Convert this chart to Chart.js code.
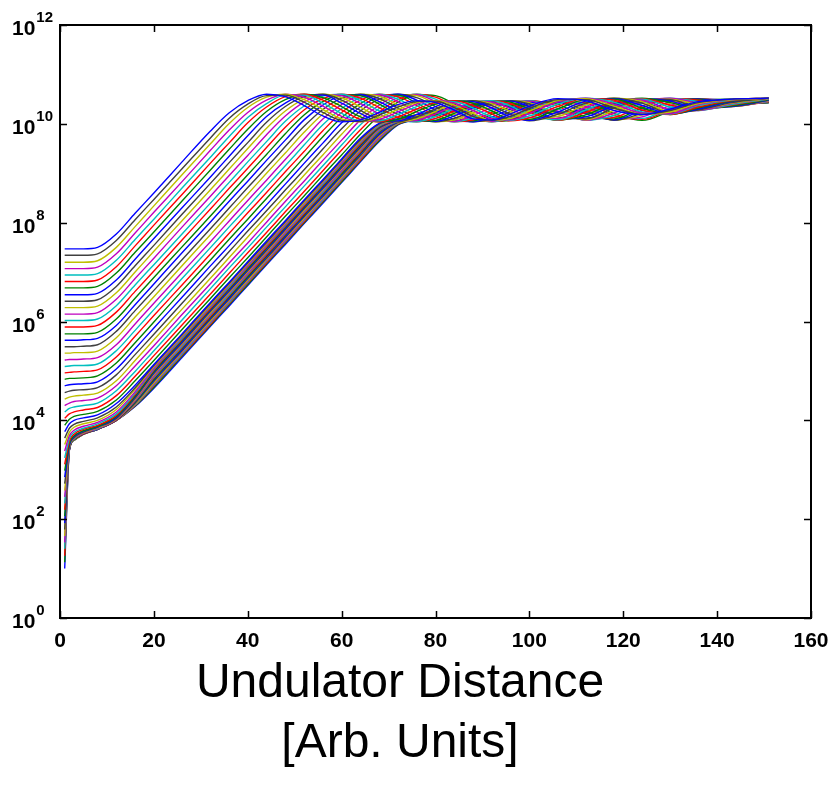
<!DOCTYPE html>
<html>
<head>
<meta charset="utf-8">
<script src="https://cdn.jsdelivr.net/npm/chart.js@4.4.0/dist/chart.umd.min.js"></script>
<style>
  html, body { margin: 0; padding: 0; background: #fff; }
  canvas { display: block; }
</style>
</head>
<body>
<canvas id="gainChart" width="836" height="788"></canvas>
<script>
// ---- data ----
// undulator distance samples (shared by every run)
const distance = [1, 2, 3, 5, 8, 12, 16, 20, 26, 32, 36, 40, 44, 48, 52, 56, 60, 64, 68, 72, 76, 80, 84, 88, 92, 96, 100, 106, 112, 118, 124, 130, 136, 143, 151];

// log10(power) for each run, lowest seed first
const logPower = [
  [1.00,3.40,3.60,3.72,3.82,4.00,4.28, 4.65,5.27,5.90,6.31,6.73,7.15,7.56,7.98,8.39,8.81,9.23, 9.64,9.98,10.09,10.17,10.25,10.33,10.39,10.40,10.35,10.24,10.22,10.33,10.43,10.47,10.48,10.49,10.50],
  [1.13,3.40,3.60,3.72,3.82,4.00,4.29, 4.67,5.30,5.92,6.34,6.75,7.17,7.59,8.00,8.42,8.83,9.25, 9.66,9.99,10.09,10.17,10.25,10.34,10.39,10.40,10.35,10.24,10.22,10.33,10.43,10.47,10.48,10.49,10.50],
  [1.26,3.40,3.60,3.72,3.82,4.00,4.30, 4.70,5.32,5.94,6.36,6.78,7.19,7.61,8.02,8.44,8.86,9.27, 9.69,10.00,10.10,10.18,10.26,10.34,10.39,10.40,10.34,10.24,10.23,10.34,10.43,10.47,10.48,10.49,10.50],
  [1.40,3.40,3.60,3.72,3.82,4.00,4.31, 4.72,5.34,5.97,6.38,6.80,7.22,7.63,8.05,8.46,8.88,9.30, 9.71,10.01,10.10,10.18,10.26,10.34,10.40,10.39,10.34,10.24,10.23,10.34,10.43,10.47,10.48,10.49,10.50],
  [1.53,3.40,3.60,3.72,3.82,4.00,4.32, 4.74,5.37,5.99,6.41,6.82,7.24,7.65,8.07,8.49,8.90,9.32, 9.73,10.02,10.11,10.19,10.27,10.35,10.40,10.39,10.33,10.23,10.24,10.35,10.44,10.47,10.48,10.49,10.50],
  [1.66,3.41,3.60,3.72,3.82,4.00,4.33, 4.76,5.39,6.01,6.43,6.84,7.26,7.68,8.09,8.51,8.92,9.34, 9.76,10.02,10.11,10.19,10.27,10.35,10.40,10.39,10.33,10.23,10.24,10.35,10.44,10.47,10.48,10.49,10.50],
  [1.79,3.41,3.61,3.72,3.82,4.00,4.35, 4.79,5.41,6.04,6.45,6.87,7.28,7.70,8.12,8.53,8.95,9.36, 9.78,10.03,10.12,10.20,10.28,10.35,10.40,10.39,10.32,10.23,10.24,10.36,10.44,10.47,10.48,10.49,10.50],
  [1.92,3.41,3.61,3.73,3.82,4.01,4.36, 4.81,5.43,6.06,6.47,6.89,7.31,7.72,8.14,8.55,8.97,9.39, 9.80,10.04,10.12,10.20,10.28,10.36,10.40,10.38,10.32,10.23,10.25,10.36,10.44,10.47,10.48,10.49,10.50],
  [2.06,3.42,3.61,3.73,3.83,4.01,4.37, 4.83,5.46,6.08,6.50,6.91,7.33,7.75,8.16,8.58,8.99,9.41, 9.83,10.05,10.12,10.20,10.28,10.36,10.40,10.38,10.32,10.23,10.25,10.36,10.44,10.47,10.48,10.49,10.50],
  [2.19,3.43,3.62,3.73,3.83,4.01,4.39, 4.86,5.48,6.10,6.52,6.94,7.35,7.77,8.18,8.60,9.02,9.43, 9.85,10.05,10.13,10.21,10.29,10.36,10.40,10.38,10.31,10.22,10.25,10.37,10.44,10.47,10.48,10.49,10.50],
  [2.32,3.44,3.62,3.74,3.83,4.02,4.40, 4.88,5.50,6.13,6.54,6.96,7.38,7.79,8.21,8.62,9.04,9.46, 9.86,10.05,10.13,10.21,10.29,10.37,10.40,10.38,10.31,10.22,10.26,10.37,10.45,10.47,10.48,10.49,10.50],
  [2.45,3.45,3.63,3.74,3.84,4.02,4.41, 4.90,5.53,6.15,6.57,6.98,7.40,7.81,8.23,8.65,9.06,9.48, 9.88,10.06,10.14,10.22,10.30,10.37,10.40,10.37,10.30,10.22,10.26,10.38,10.45,10.48,10.49,10.49,10.50],
  [2.58,3.46,3.64,3.75,3.85,4.03,4.43, 4.93,5.55,6.17,6.59,7.01,7.42,7.84,8.25,8.67,9.09,9.50, 9.90,10.06,10.14,10.22,10.30,10.37,10.40,10.37,10.30,10.22,10.27,10.38,10.45,10.48,10.49,10.49,10.50],
  [2.72,3.48,3.65,3.76,3.86,4.04,4.45, 4.95,5.57,6.20,6.61,7.03,7.44,7.86,8.28,8.69,9.11,9.52, 9.91,10.07,10.15,10.23,10.31,10.38,10.40,10.37,10.29,10.22,10.27,10.39,10.45,10.48,10.49,10.49,10.50],
  [2.85,3.51,3.67,3.78,3.87,4.06,4.47, 4.97,5.59,6.22,6.63,7.05,7.47,7.88,8.30,8.71,9.13,9.55, 9.93,10.07,10.15,10.23,10.31,10.38,10.40,10.36,10.29,10.22,10.27,10.39,10.45,10.48,10.49,10.49,10.50],
  [2.98,3.54,3.69,3.79,3.88,4.08,4.49, 4.99,5.62,6.24,6.66,7.07,7.49,7.91,8.32,8.74,9.15,9.57, 9.94,10.08,10.15,10.23,10.31,10.38,10.40,10.36,10.29,10.21,10.28,10.39,10.45,10.48,10.49,10.49,10.50],
  [3.11,3.58,3.72,3.82,3.90,4.10,4.52, 5.02,5.64,6.26,6.68,7.10,7.51,7.93,8.34,8.76,9.18,9.59, 9.95,10.08,10.16,10.24,10.32,10.39,10.40,10.36,10.28,10.21,10.28,10.40,10.46,10.48,10.49,10.49,10.50],
  [3.24,3.63,3.76,3.84,3.93,4.13,4.55, 5.04,5.66,6.29,6.70,7.12,7.54,7.95,8.37,8.78,9.20,9.62, 9.96,10.09,10.16,10.24,10.32,10.39,10.40,10.35,10.28,10.21,10.28,10.40,10.46,10.48,10.49,10.49,10.50],
  [3.38,3.69,3.80,3.88,3.96,4.17,4.58, 5.06,5.69,6.31,6.73,7.14,7.56,7.97,8.39,8.81,9.22,9.64, 9.98,10.09,10.17,10.25,10.33,10.39,10.40,10.35,10.27,10.21,10.29,10.41,10.46,10.48,10.49,10.49,10.50],
  [3.51,3.76,3.86,3.93,4.00,4.22,4.63, 5.09,5.71,6.33,6.75,7.17,7.58,8.00,8.41,8.83,9.25,9.66, 9.99,10.09,10.17,10.25,10.33,10.39,10.40,10.35,10.27,10.21,10.29,10.41,10.46,10.48,10.49,10.49,10.50],
  [3.64,3.84,3.92,3.98,4.05,4.27,4.66, 5.11,5.73,6.36,6.77,7.19,7.60,8.02,8.44,8.85,9.27,9.68, 10.00,10.10,10.18,10.26,10.34,10.39,10.40,10.34,10.26,10.21,10.30,10.42,10.46,10.48,10.49,10.49,10.50],
  [3.77,3.93,4.00,4.05,4.11,4.34,4.71, 5.13,5.75,6.38,6.79,7.21,7.63,8.04,8.46,8.87,9.29,9.71, 10.01,10.10,10.18,10.26,10.34,10.39,10.40,10.34,10.26,10.21,10.30,10.42,10.46,10.48,10.49,10.49,10.50],
  [3.90,4.02,4.08,4.12,4.18,4.41,4.80, 5.21,5.84,6.46,6.88,7.29,7.71,8.13,8.54,8.96,9.37,9.79,10.17,10.44,10.59,10.57,10.40,10.19,10.05,10.07,10.21,10.43,10.44,10.21,10.07,10.26,10.48,10.50,10.45],
  [4.04,4.13,4.17,4.21,4.26,4.50,4.89, 5.31,5.93,6.55,6.97,7.39,7.80,8.22,8.63,9.05,9.47,9.88,10.24,10.49,10.60,10.54,10.36,10.15,10.04,10.09,10.24,10.45,10.42,10.17,10.09,10.29,10.49,10.49,10.44],
  [4.17,4.24,4.27,4.30,4.35,4.60,4.99, 5.41,6.03,6.66,7.08,7.49,7.91,8.32,8.74,9.15,9.57,9.98,10.31,10.53,10.60,10.50,10.30,10.11,10.04,10.12,10.28,10.46,10.39,10.13,10.11,10.33,10.50,10.48,10.44],
  [4.30,4.35,4.38,4.40,4.45,4.70,5.10, 5.51,6.14,6.76,7.18,7.59,8.01,8.43,8.84,9.26,9.67,10.08,10.38,10.57,10.59,10.45,10.25,10.07,10.05,10.16,10.32,10.47,10.35,10.09,10.14,10.37,10.51,10.47,10.43],
  [4.43,4.47,4.49,4.51,4.55,4.80,5.21, 5.63,6.25,6.87,7.29,7.71,8.13,8.54,8.96,9.37,9.79,10.17,10.44,10.59,10.57,10.40,10.19,10.05,10.07,10.21,10.37,10.47,10.31,10.07,10.18,10.42,10.51,10.45,10.43],
  [4.56,4.59,4.61,4.62,4.66,4.92,5.33, 5.74,6.37,6.99,7.41,7.83,8.24,8.66,9.07,9.49,9.90,10.26,10.50,10.60,10.53,10.35,10.14,10.04,10.10,10.25,10.41,10.46,10.26,10.07,10.22,10.45,10.51,10.43,10.43],
  [4.70,4.72,4.73,4.74,4.78,5.04,5.45, 5.87,6.49,7.12,7.53,7.95,8.36,8.78,9.20,9.61,10.02,10.34,10.55,10.60,10.48,10.28,10.09,10.04,10.14,10.30,10.43,10.44,10.20,10.08,10.27,10.48,10.50,10.41,10.43],
  [4.83,4.85,4.85,4.86,4.90,5.16,5.57, 5.99,6.62,7.24,7.66,8.07,8.49,8.90,9.32,9.74,10.13,10.41,10.58,10.58,10.42,10.21,10.06,10.06,10.19,10.35,10.46,10.40,10.14,10.10,10.32,10.50,10.49,10.39,10.43],
  [4.96,4.97,4.98,4.99,5.02,5.28,5.70, 6.12,6.74,7.36,7.78,8.20,8.61,9.03,9.44,9.86,10.23,10.48,10.60,10.55,10.37,10.16,10.04,10.08,10.23,10.39,10.47,10.36,10.10,10.13,10.36,10.51,10.48,10.37,10.44],
  [5.09,5.10,5.11,5.11,5.14,5.41,5.82, 6.24,6.87,7.49,7.91,8.32,8.74,9.15,9.57,9.98,10.31,10.53,10.60,10.50,10.30,10.11,10.04,10.12,10.28,10.43,10.47,10.31,10.07,10.17,10.41,10.52,10.45,10.36,10.45],
  [5.22,5.23,5.23,5.24,5.27,5.53,5.95, 6.37,6.99,7.61,8.03,8.45,8.86,9.28,9.69,10.10,10.39,10.57,10.59,10.45,10.24,10.07,10.05,10.17,10.33,10.45,10.46,10.26,10.07,10.22,10.45,10.52,10.42,10.35,10.46],
  [5.36,5.36,5.37,5.37,5.40,5.67,6.09, 6.50,7.13,7.75,8.17,8.58,9.00,9.41,9.83,10.20,10.46,10.60,10.56,10.38,10.17,10.04,10.08,10.22,10.38,10.47,10.43,10.19,10.08,10.27,10.48,10.50,10.39,10.35,10.47],
  [5.49,5.49,5.49,5.50,5.53,5.80,6.22, 6.63,7.25,7.87,8.29,8.71,9.12,9.54,9.95,10.29,10.52,10.60,10.51,10.32,10.12,10.04,10.11,10.27,10.42,10.47,10.40,10.14,10.10,10.32,10.50,10.49,10.35,10.35,10.48],
  [5.62,5.62,5.62,5.63,5.66,5.92,6.34, 6.76,7.39,8.01,8.43,8.84,9.26,9.67,10.08,10.38,10.57,10.59,10.45,10.25,10.07,10.05,10.16,10.32,10.45,10.46,10.35,10.09,10.14,10.37,10.51,10.46,10.32,10.35,10.48],
  [5.75,5.75,5.75,5.75,5.78,6.05,6.47, 6.89,7.51,8.13,8.55,8.97,9.38,9.80,10.18,10.45,10.59,10.57,10.40,10.19,10.05,10.07,10.21,10.37,10.47,10.44,10.30,10.07,10.18,10.42,10.52,10.43,10.30,10.36,10.49],
  [5.89,5.89,5.89,5.89,5.92,6.19,6.61, 7.02,7.65,8.27,8.69,9.10,9.52,9.93,10.28,10.51,10.60,10.52,10.33,10.13,10.04,10.11,10.26,10.41,10.47,10.41,10.24,10.07,10.23,10.45,10.51,10.38,10.28,10.38,10.50],
  [6.02,6.02,6.02,6.02,6.05,6.32,6.74, 7.15,7.77,8.39,8.81,9.23,9.64,10.05,10.36,10.56,10.60,10.47,10.26,10.08,10.04,10.15,10.31,10.44,10.47,10.36,10.18,10.08,10.28,10.48,10.50,10.34,10.27,10.39,10.50],
  [6.15,6.15,6.15,6.15,6.18,6.45,6.87, 7.28,7.91,8.53,8.95,9.36,9.78,10.16,10.44,10.59,10.57,10.41,10.20,10.05,10.07,10.20,10.36,10.46,10.44,10.31,10.13,10.11,10.33,10.50,10.48,10.29,10.27,10.41,10.51],
  [6.28,6.28,6.28,6.28,6.31,6.58,7.00, 7.42,8.04,8.66,9.08,9.50,9.91,10.26,10.50,10.60,10.53,10.34,10.13,10.04,10.10,10.25,10.41,10.47,10.41,10.25,10.09,10.15,10.38,10.52,10.45,10.25,10.28,10.42,10.51],
  [6.41,6.41,6.41,6.41,6.44,6.71,7.13, 7.54,8.17,8.79,9.21,9.62,10.03,10.35,10.55,10.60,10.48,10.27,10.09,10.04,10.14,10.30,10.44,10.47,10.37,10.19,10.06,10.19,10.42,10.52,10.42,10.22,10.28,10.43,10.52],
  [6.54,6.54,6.54,6.54,6.57,6.84,7.26, 7.68,8.30,8.92,9.34,9.76,10.15,10.42,10.58,10.58,10.42,10.21,10.06,10.06,10.19,10.35,10.46,10.45,10.32,10.14,10.07,10.24,10.46,10.51,10.37,10.20,10.30,10.45,10.52],
  [6.68,6.68,6.68,6.68,6.71,6.98,7.40, 7.81,8.44,9.06,9.48,9.89,10.25,10.49,10.60,10.53,10.35,10.14,10.04,10.09,10.25,10.40,10.47,10.42,10.26,10.09,10.09,10.30,10.49,10.50,10.32,10.19,10.32,10.46,10.52],
  [6.81,6.81,6.81,6.81,6.84,7.11,7.53, 7.95,8.57,9.20,9.61,10.02,10.34,10.55,10.60,10.48,10.28,10.09,10.04,10.14,10.30,10.43,10.47,10.37,10.20,10.06,10.12,10.35,10.51,10.48,10.28,10.19,10.34,10.47,10.52],
  [6.94,6.94,6.94,6.94,6.97,7.24,7.66, 8.07,8.70,9.32,9.74,10.13,10.41,10.58,10.58,10.42,10.21,10.06,10.06,10.19,10.35,10.46,10.45,10.32,10.14,10.07,10.16,10.40,10.52,10.44,10.24,10.20,10.37,10.48,10.52],
  [7.07,7.07,7.07,7.07,7.10,7.37,7.79, 8.21,8.83,9.46,9.87,10.23,10.48,10.60,10.54,10.36,10.15,10.04,10.09,10.24,10.40,10.47,10.42,10.27,10.10,10.08,10.21,10.44,10.52,10.40,10.22,10.21,10.39,10.49,10.52],
  [7.20,7.20,7.20,7.20,7.23,7.50,7.92, 8.34,8.97,9.59,10.00,10.33,10.54,10.60,10.49,10.29,10.10,10.04,10.13,10.29,10.43,10.47,10.38,10.21,10.07,10.11,10.26,10.47,10.51,10.36,10.20,10.24,10.41,10.49,10.52],
  [7.34,7.34,7.34,7.34,7.37,7.64,8.06, 8.47,9.09,9.71,10.11,10.40,10.57,10.58,10.44,10.23,10.07,10.05,10.18,10.34,10.45,10.46,10.33,10.15,10.07,10.15,10.31,10.49,10.49,10.32,10.19,10.27,10.43,10.50,10.52],
  [7.47,7.47,7.47,7.47,7.50,7.77,8.19, 8.60,9.23,9.85,10.22,10.47,10.60,10.55,10.37,10.16,10.04,10.08,10.23,10.39,10.47,10.43,10.28,10.10,10.08,10.20,10.36,10.51,10.47,10.27,10.19,10.30,10.45,10.50,10.52]
];

// matlab-style colour cycle: b g r c m y k
const lineColors = ['#0000FF', '#008000', '#FF0000', '#00BFBF', '#BF00BF', '#BFBF00', '#404040'];

const xTicks = [0, 20, 40, 60, 80, 100, 120, 140, 160];
const yTickExponents = [0, 2, 4, 6, 8, 10, 12];
const axisTitle = ['Undulator Distance', '[Arb. Units]'];

// ---- datasets (highest seed first so it is painted on top) ----
const datasets = [];
for (let i = logPower.length - 1; i >= 0; i--) {
    datasets.push({
        data: distance.map((x, j) => ({ x: x, y: Math.pow(10, logPower[i][j]) })),
        borderColor: lineColors[i % lineColors.length],
        borderWidth: 1.4,
        pointRadius: 0,
        fill: false,
        cubicInterpolationMode: 'monotone'
    });
}

// frame, inward ticks, tick labels and the axis title
const framePlugin = {
    id: 'framePlugin',
    afterDraw(chart) {
        const ctx = chart.ctx;
        const a = chart.chartArea;
        const xs = chart.scales.x, ys = chart.scales.y;
        const tickLen = 7;
        ctx.save();

        ctx.strokeStyle = '#000';
        ctx.lineWidth = 1.5;
        xTicks.forEach(v => {
            const px = Math.round(xs.getPixelForValue(v)) + 0.5;
            ctx.beginPath();
            ctx.moveTo(px, a.bottom); ctx.lineTo(px, a.bottom - tickLen);
            ctx.moveTo(px, a.top); ctx.lineTo(px, a.top + tickLen);
            ctx.stroke();
        });
        yTickExponents.forEach(e => {
            const py = Math.round(ys.getPixelForValue(Math.pow(10, e))) + 0.5;
            ctx.beginPath();
            ctx.moveTo(a.left, py); ctx.lineTo(a.left + tickLen, py);
            ctx.moveTo(a.right, py); ctx.lineTo(a.right - tickLen, py);
            ctx.stroke();
        });

        ctx.lineWidth = 2;
        ctx.strokeRect(a.left, a.top, a.right - a.left, a.bottom - a.top);

        // x tick labels
        ctx.fillStyle = '#000';
        ctx.font = 'bold 21px "Liberation Sans", Arial, sans-serif';
        ctx.textAlign = 'center';
        ctx.textBaseline = 'alphabetic';
        xTicks.forEach(v => ctx.fillText(String(v), xs.getPixelForValue(v), a.bottom + 29));

        // y tick labels: 10 with a raised exponent
        ctx.textAlign = 'left';
        yTickExponents.forEach(e => {
            const py = ys.getPixelForValue(Math.pow(10, e));
            ctx.font = 'bold 21px "Liberation Sans", Arial, sans-serif';
            ctx.fillText('10', 12, py + 10);
            const w = ctx.measureText('10').width;
            ctx.font = 'bold 15px "Liberation Sans", Arial, sans-serif';
            ctx.fillText(String(e), 12 + w + 1, py - 3);
        });

        // axis title, two lines
        ctx.font = '48px "Liberation Sans", Arial, sans-serif';
        ctx.textAlign = 'center';
        ctx.fillText(axisTitle[0], 400, 697);
        ctx.fillText(axisTitle[1], 400, 757);
        ctx.restore();
    }
};

const ctx = document.getElementById('gainChart').getContext('2d');
const gainChart = new Chart(ctx, {
    type: 'line',
    data: { datasets: datasets },
    options: {
        responsive: false,
        devicePixelRatio: 1,
        animation: false,
        layout: { padding: { left: 60, right: 25, top: 25, bottom: 170 } },
        plugins: { legend: { display: false }, tooltip: { enabled: false }, title: { display: false } },
        scales: {
            x: { type: 'linear', display: false, min: 0, max: 160 },
            y: { type: 'logarithmic', display: false, min: 1, max: 1e12 }
        }
    },
    plugins: [framePlugin]
});
</script>
</body>
</html>
